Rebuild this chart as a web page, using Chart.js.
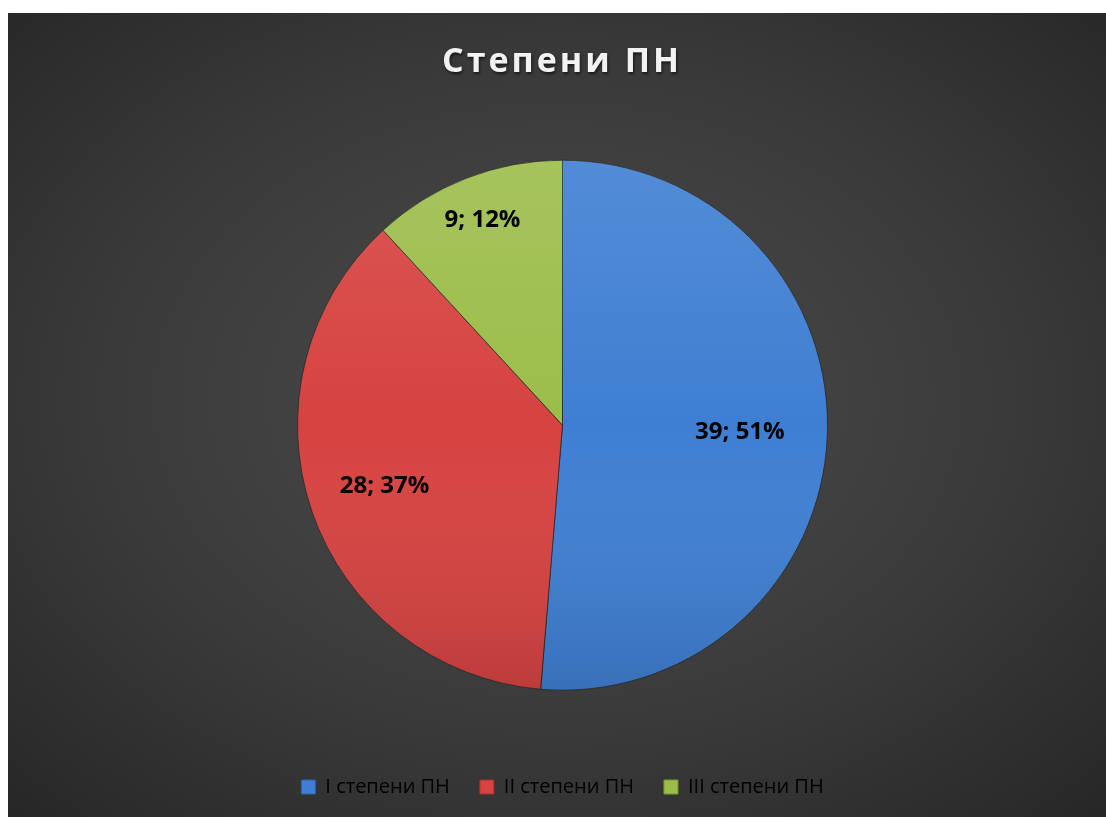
<!DOCTYPE html>
<html>
<head>
<meta charset="utf-8">
<script src="https://cdn.jsdelivr.net/npm/chart.js@4.4.1/dist/chart.umd.min.js"></script>
<style>
  html, body { margin: 0; padding: 0; background: #fff; }
  #wrap {
    position: absolute; left: 8px; top: 13px; width: 1098px; height: 804px;
    background: radial-gradient(ellipse 75% 75% at 50% 48%, #4c4c4c 0%, #3a3a3a 55%, #252525 100%);
  }
</style>
</head>
<body>
<div id="wrap"><canvas id="grafica" width="1098" height="804"></canvas></div>
<script>
  // Datos del gráfico
  const categorias = ['I степени ПН', 'II степени ПН', 'III степени ПН'];
  const valores = [39, 28, 9];
  const porcentajes = ['51%', '37%', '12%'];
  const titulo = 'Степени ПН';

  const colores = ['#3f7fd2', '#d64341', '#9cbd4a'];
  const claros = ['#5a97e6', '#e8625f', '#b3d463'];
  const oscuros = ['#2d62a8', '#a8302e', '#7a9834'];
  // distancia de la etiqueta desde el centro (fracción del radio)
  const distEtiqueta = [0.67, 0.71, 0.83];

  // relleno con efecto bisel (gradiente radial)
  function relleno(ctx) {
    const chart = ctx.chart;
    const meta = chart.getDatasetMeta(0);
    const arc = meta.data[ctx.dataIndex];
    if (!arc || !arc.outerRadius) return colores[ctx.dataIndex];
    const g = chart.ctx.createRadialGradient(arc.x, arc.y, 0, arc.x, arc.y, arc.outerRadius);
    const i = ctx.dataIndex;
    g.addColorStop(0, colores[i]);
    g.addColorStop(0.88, colores[i]);
    g.addColorStop(0.95, claros[i]);
    g.addColorStop(1, oscuros[i]);
    return g;
  }

  // Título, sombra/luz y etiquetas
  const extras = {
    id: 'extras',
    afterDatasetsDraw(chart) {
      const ctx = chart.ctx;
      const arc0 = chart.getDatasetMeta(0).data[0];
      const cx = arc0.x, cy = arc0.y, r = arc0.outerRadius;

      // luz arriba, sombra abajo
      ctx.save();
      ctx.beginPath();
      ctx.arc(cx, cy, r, 0, Math.PI * 2);
      ctx.clip();
      const lg = ctx.createLinearGradient(0, cy - r, 0, cy + r);
      lg.addColorStop(0, 'rgba(255,255,255,0.10)');
      lg.addColorStop(0.5, 'rgba(255,255,255,0)');
      lg.addColorStop(1, 'rgba(0,0,0,0.12)');
      ctx.fillStyle = lg;
      ctx.fillRect(cx - r, cy - r, 2 * r, 2 * r);
      ctx.restore();

      // etiquetas de datos
      ctx.save();
      ctx.font = 'bold 24px "Open Sans"';
      ctx.fillStyle = '#000';
      ctx.textAlign = 'center';
      ctx.textBaseline = 'middle';
      chart.getDatasetMeta(0).data.forEach((a, i) => {
        const mid = (a.startAngle + a.endAngle) / 2;
        const d = a.outerRadius * distEtiqueta[i];
        ctx.fillText(valores[i] + '; ' + porcentajes[i], a.x + Math.cos(mid) * d, a.y + Math.sin(mid) * d);
      });
      ctx.restore();

      // título
      ctx.save();
      ctx.font = 'bold 34px "Open Sans"';
      ctx.letterSpacing = '3px';
      ctx.fillStyle = '#f2f2f2';
      ctx.textAlign = 'center';
      ctx.textBaseline = 'middle';
      ctx.shadowColor = 'rgba(0,0,0,0.6)';
      ctx.shadowOffsetX = 1;
      ctx.shadowOffsetY = 2;
      ctx.shadowBlur = 3;
      ctx.fillText(titulo, 554, 49);
      ctx.restore();
    }
  };

  new Chart(document.getElementById('grafica'), {
    type: 'pie',
    data: {
      labels: categorias,
      datasets: [{
        data: valores,
        backgroundColor: relleno,
        borderColor: 'rgba(40,40,40,0.8)',
        borderWidth: 1
      }]
    },
    options: {
      responsive: false,
      animation: false,
      radius: 265,
      layout: { padding: { top: 16, left: 11, right: 0, bottom: 10 } },
      plugins: {
        title: { display: true, text: '', padding: { top: 50, bottom: 10 } },
        tooltip: { enabled: false },
        legend: {
          position: 'bottom',
          labels: {
            color: '#d9d9d9',
            font: { family: '"Open Sans"', size: 20 },
            boxWidth: 14,
            boxHeight: 14,
            padding: 30,
            generateLabels(chart) {
              return categorias.map((c, i) => ({
                text: c,
                fillStyle: colores[i],
                strokeStyle: oscuros[i],
                lineWidth: 1,
                index: i
              }));
            }
          }
        }
      }
    },
    plugins: [extras]
  });
</script>
</body>
</html>
